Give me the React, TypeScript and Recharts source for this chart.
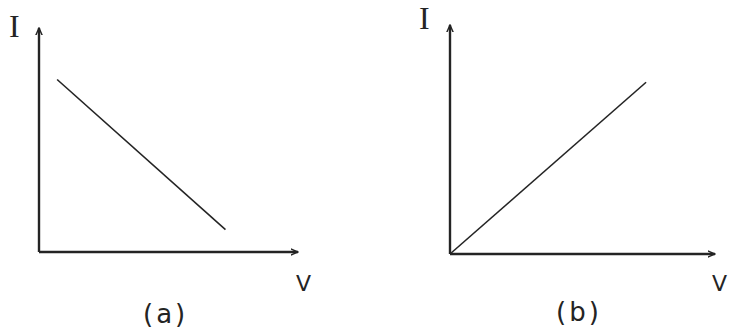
import React from "react";
import { LineChart, Line, XAxis, YAxis, ReferenceLine, Customized } from "recharts";

// Panel (a): current falls as voltage rises
const voltageA = [0.7, 7.2];
const currentA = [7.7, 1.0];

// Panel (b): current rises linearly from the origin
const voltageB = [0, 7.4];
const currentB = [0, 7.5];

const axisMax = 10;
const ink = "#242424";

const toRows = (vs: number[], is: number[]) => vs.map((v, k) => ({ v, i: is[k] }));

const ArrowDefs = () => (
  <defs>
    <marker id="arrowHead" viewBox="0 0 10 10" refX="9" refY="5" markerWidth="8" markerHeight="8" orient="auto" markerUnits="userSpaceOnUse">
      <path d="M0,1 L9,5 L0,9" fill="none" stroke={ink} strokeWidth="1.8" />
    </marker>
  </defs>
);

type PanelProps = {
  left: number;
  top: number;
  width: number;
  height: number;
  vs: number[];
  is: number[];
};

const M = 12;

function Panel({ left, top, width, height, vs, is }: PanelProps) {
  return (
    <div style={{ position: "absolute", left: left - M, top: top - M }}>
      <LineChart
        width={width + 2 * M}
        height={height + 2 * M}
        data={toRows(vs, is)}
        margin={{ top: M, right: M, bottom: M, left: M }}
      >
        <Customized component={ArrowDefs} />
        <XAxis dataKey="v" type="number" domain={[0, axisMax]} hide />
        <YAxis dataKey="i" type="number" domain={[0, axisMax]} hide />
        <ReferenceLine
          segment={[{ x: 0, y: 0 }, { x: axisMax, y: 0 }]}
          stroke={ink}
          strokeWidth={2.4}
          markerEnd="url(#arrowHead)"
          ifOverflow="visible"
        />
        <ReferenceLine
          segment={[{ x: 0, y: 0 }, { x: 0, y: axisMax }]}
          stroke={ink}
          strokeWidth={2.4}
          markerEnd="url(#arrowHead)"
          ifOverflow="visible"
        />
        <Line
          dataKey="i"
          stroke={ink}
          strokeWidth={1.6}
          dot={false}
          activeDot={false}
          isAnimationActive={false}
        />
      </LineChart>
    </div>
  );
}

const labelStyle: React.CSSProperties = {
  position: "absolute",
  color: ink,
  fontFamily: "'DejaVu Sans', sans-serif",
  fontSize: 22,
  lineHeight: "22px",
  fontWeight: 400,
  whiteSpace: "nowrap",
};

const axisNameStyle: React.CSSProperties = {
  ...labelStyle,
  fontFamily: "'Liberation Serif', serif",
  fontSize: 32,
  lineHeight: "32px",
};

const captionStyle: React.CSSProperties = {
  ...labelStyle,
  fontSize: 26,
  lineHeight: "26px",
  letterSpacing: 3,
};

export default function App() {
  return (
    <div
      style={{
        position: "absolute",
        left: 0,
        top: 0,
        width: 729,
        height: 332,
        background: "#ffffff",
        overflow: "hidden",
      }}
    >
      <Panel left={39} top={28} width={259} height={224} vs={voltageA} is={currentA} />
      <Panel left={450} top={25} width={265} height={229} vs={voltageB} is={currentB} />

      <div style={{ ...axisNameStyle, left: 9, top: 10 }}>I</div>
      <div style={{ ...labelStyle, left: 296, top: 273 }}>V</div>
      <div style={{ ...captionStyle, left: 143, top: 301 }}>(a)</div>

      <div style={{ ...axisNameStyle, left: 419, top: 2 }}>I</div>
      <div style={{ ...labelStyle, left: 712, top: 273 }}>V</div>
      <div style={{ ...captionStyle, left: 556, top: 299 }}>(b)</div>
    </div>
  );
}
